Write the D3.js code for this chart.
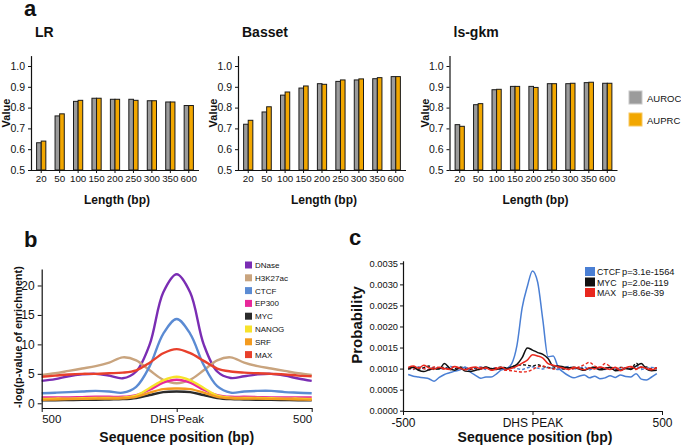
<!DOCTYPE html>
<html><head><meta charset="utf-8">
<script src="https://cdn.jsdelivr.net/npm/d3@7"></script>
<style>
body{margin:0;background:#fff;}
text{font-family:"Liberation Sans",Arial,sans-serif;fill:#111;}
</style></head>
<body>
<script>
// ---------- Panel a data ----------
const lengths = ["20","50","100","150","200","250","300","350","600"];
const metrics = ["AUROC","AUPRC"];
const lrAUROC     = [0.631,0.760,0.830,0.845,0.840,0.840,0.833,0.827,0.810];
const lrAUPRC     = [0.639,0.770,0.835,0.845,0.840,0.835,0.833,0.827,0.810];
const bassetAUROC = [0.720,0.779,0.860,0.894,0.915,0.926,0.933,0.939,0.949];
const bassetAUPRC = [0.739,0.804,0.875,0.904,0.912,0.933,0.938,0.944,0.949];
const lsgkmAUROC  = [0.718,0.814,0.886,0.902,0.902,0.915,0.915,0.920,0.917];
const lsgkmAUPRC  = [0.710,0.819,0.888,0.902,0.897,0.915,0.917,0.922,0.917];
const valueTicks  = [0.5,0.6,0.7,0.8,0.9,1.0];

// ---------- Panel b data ----------
const posB = [-500,-450,-400,-350,-300,-250,-200,-150,-100,-50,0,50,100,150,200,250,300,350,400,450,500];
const bNames = ["DNase","H3K27ac","CTCF","EP300","MYC","NANOG","SRF","MAX"];
const bDNase   = [3.8,4.1,4.6,4.9,5.0,4.7,4.25,5.4,10.0,18.8,21.9,18.8,10.0,5.4,4.3,4.6,4.9,5.0,4.7,4.2,3.8];
const bH3K27ac = [4.8,5.1,5.5,5.9,6.3,6.9,7.8,7.3,5.6,4.0,3.4,4.0,5.6,7.3,7.8,6.9,6.3,5.9,5.5,5.1,4.8];
const bCTCF    = [1.7,1.8,1.9,2.0,2.1,2.0,1.8,2.8,6.3,11.8,14.3,11.8,6.5,2.9,1.8,2.0,2.1,2.1,1.9,1.8,1.7];
const bEP300   = [1.0,1.0,1.0,1.05,1.1,1.1,1.1,1.4,2.3,3.5,4.0,3.5,2.3,1.4,1.1,1.1,1.05,1.0,1.0,1.0,1.0];
const bMYC     = [0.5,0.5,0.55,0.6,0.6,0.65,0.7,0.9,1.4,1.9,2.0,1.9,1.4,0.9,0.7,0.65,0.6,0.6,0.55,0.5,0.5];
const bNANOG   = [0.75,0.8,0.8,0.85,0.9,0.9,0.95,1.3,2.6,3.9,4.5,3.9,2.6,1.3,0.95,0.9,0.9,0.85,0.8,0.8,0.75];
const bSRF     = [0.6,0.65,0.7,0.75,0.8,0.8,0.85,1.1,1.8,2.4,2.5,2.4,1.8,1.1,0.85,0.8,0.8,0.75,0.7,0.65,0.6];
const bMAX     = [4.5,4.7,4.9,5.0,5.0,5.1,5.2,5.6,6.9,8.5,9.2,8.5,7.2,5.9,5.4,5.2,5.1,5.0,4.9,4.7,4.6];
const bColors  = ["#7a2db3","#c9a47e","#5b8bd3","#e8289a","#2b2b2b","#f7e22b","#f49b1f","#e8402c"];
const bTicks   = [0,5,10,15,20];

// ---------- Panel c data ----------
const posC = [-480,-460,-440,-420,-400,-380,-360,-340,-320,-300,-280,-260,-240,-220,-200,-180,-160,-140,-120,-100,-80,-60,-40,-20,0,
              20,40,60,80,100,120,140,160,180,200,220,240,260,280,300,320,340,360,380,400,420,440,460,480];
const cCTCF = [8.6e-4,8.2e-4,8.0e-4,7.8e-4,7.6e-4,7.0e-4,7.9e-4,8.6e-4,9.0e-4,9.4e-4,9.7e-4,10.4e-4,9.2e-4,8.4e-4,7.7e-4,8.0e-4,8.0e-4,8.7e-4,9.7e-4,10.0e-4,11.2e-4,15.5e-4,24.4e-4,29.5e-4,33.2e-4,
               30.5e-4,21.5e-4,12.8e-4,13.0e-4,10.2e-4,9.1e-4,8.3e-4,7.8e-4,8.2e-4,8.5e-4,7.8e-4,8.2e-4,7.6e-4,7.8e-4,8.3e-4,7.9e-4,8.5e-4,8.1e-4,8.0e-4,8.8e-4,7.5e-4,7.3e-4,8.0e-4,8.8e-4];
const cMYC  = [9.8e-4,10.3e-4,9.6e-4,9.3e-4,9.7e-4,10.0e-4,9.9e-4,11.2e-4,10.1e-4,9.6e-4,10.2e-4,9.4e-4,9.3e-4,9.6e-4,9.9e-4,10.4e-4,10.0e-4,9.8e-4,10.1e-4,10.0e-4,10.4e-4,11.0e-4,12.6e-4,14.9e-4,14.4e-4,
               13.8e-4,13.4e-4,12.4e-4,10.6e-4,10.6e-4,10.4e-4,10.2e-4,10.3e-4,9.9e-4,9.6e-4,10.1e-4,10.2e-4,9.7e-4,9.9e-4,10.3e-4,9.5e-4,9.6e-4,10.0e-4,9.8e-4,10.6e-4,11.2e-4,9.9e-4,9.5e-4,9.6e-4];
const cMAX  = [10.3e-4,10.6e-4,10.1e-4,10.8e-4,10.2e-4,9.9e-4,10.3e-4,10.0e-4,9.8e-4,10.5e-4,10.1e-4,9.7e-4,10.2e-4,10.4e-4,9.9e-4,10.2e-4,9.6e-4,9.9e-4,10.3e-4,9.8e-4,10.1e-4,10.6e-4,11.3e-4,12.0e-4,13.3e-4,
               13.0e-4,12.5e-4,11.2e-4,10.8e-4,10.4e-4,10.1e-4,9.8e-4,10.3e-4,10.0e-4,9.7e-4,10.2e-4,9.9e-4,10.4e-4,10.1e-4,9.8e-4,10.3e-4,9.5e-4,10.2e-4,10.5e-4,9.9e-4,10.4e-4,10.0e-4,9.7e-4,10.1e-4];
const cCTCFbg = [10.2e-4,9.8e-4,10.4e-4,10.0e-4,9.7e-4,10.3e-4,10.1e-4,9.9e-4,10.6e-4,10.0e-4,9.8e-4,10.3e-4,9.9e-4,10.1e-4,10.4e-4,9.8e-4,10.0e-4,10.2e-4,9.7e-4,10.1e-4,10.3e-4,10.0e-4,9.8e-4,10.2e-4,10.4e-4,
                 10.1e-4,9.9e-4,10.3e-4,10.0e-4,9.8e-4,10.2e-4,10.5e-4,9.9e-4,10.1e-4,10.4e-4,9.7e-4,10.2e-4,10.0e-4,9.8e-4,10.3e-4,10.1e-4,9.9e-4,10.2e-4,10.0e-4,10.6e-4,9.8e-4,10.1e-4,10.3e-4,9.9e-4];
const cMYCbg  = [10.0e-4,10.4e-4,9.9e-4,10.2e-4,10.6e-4,9.8e-4,10.1e-4,10.3e-4,9.7e-4,10.0e-4,10.4e-4,10.1e-4,9.8e-4,10.2e-4,10.0e-4,10.3e-4,9.9e-4,10.1e-4,10.4e-4,10.2e-4,10.5e-4,10.7e-4,10.9e-4,10.8e-4,10.6e-4,
                 10.9e-4,10.5e-4,10.3e-4,10.1e-4,10.4e-4,9.9e-4,10.2e-4,10.0e-4,10.3e-4,9.8e-4,10.1e-4,10.4e-4,9.9e-4,10.2e-4,10.0e-4,9.7e-4,10.3e-4,10.1e-4,9.9e-4,11.3e-4,10.2e-4,10.4e-4,9.9e-4,10.2e-4];
const cMAXbg  = [10.1e-4,9.9e-4,10.3e-4,10.0e-4,9.8e-4,10.4e-4,10.2e-4,9.9e-4,10.1e-4,10.5e-4,9.8e-4,10.2e-4,10.0e-4,9.7e-4,10.3e-4,10.1e-4,9.9e-4,10.2e-4,9.8e-4,9.6e-4,9.5e-4,9.3e-4,9.2e-4,9.3e-4,9.8e-4,
                 10.4e-4,10.6e-4,10.2e-4,9.9e-4,10.1e-4,10.3e-4,9.8e-4,10.0e-4,10.4e-4,10.9e-4,11.5e-4,10.6e-4,10.2e-4,11.2e-4,10.5e-4,9.9e-4,10.3e-4,10.0e-4,10.2e-4,9.8e-4,10.4e-4,10.1e-4,9.9e-4,10.2e-4];
const cNames = ["CTCF","MYC","MAX"];
const cPvals = ["p=3.1e-1564","p=2.0e-119","p=8.6e-39"];
const cColors = ["#4a7fd4","#111111","#e8281e"];
const cTicks = [0,0.0005,0.001,0.0015,0.002,0.0025,0.003,0.0035];

// ---------- drawing ----------
const svg = d3.select("body").append("svg").attr("width",681).attr("height",446);
const FONT = '"Liberation Sans",Arial,sans-serif';

function styleAxis(g, fs){
  g.selectAll("path.domain").attr("stroke","#111").attr("stroke-width",1.2);
  g.selectAll(".tick line").attr("stroke","#111").attr("stroke-width",1);
  g.selectAll(".tick text").attr("font-family",FONT).attr("font-size",fs).attr("fill","#111");
}

// Panel label a
svg.append("text").attr("x",24).attr("y",16).attr("font-size",22).attr("font-weight","bold").text("a");

const barColors = {AUROC:"#9b9b9b", AUPRC:"#f2a700"};
function barPanel(x0, title, auroc, auprc){
  const g = svg.append("g");
  const x = d3.scaleBand().domain(lengths).range([x0+1, x0+167]).paddingInner(0.5).paddingOuter(0.25);
  const sub = d3.scaleBand().domain(metrics).range([0, x.bandwidth()]);
  const y = d3.scaleLinear().domain([0.5,1.05]).range([170,55.6]);
  const rows = lengths.map((l,i)=>({l, AUROC:auroc[i], AUPRC:auprc[i]}));
  rows.forEach(r=>{
    metrics.forEach(m=>{
      g.append("rect").attr("x",x(r.l)+sub(m)).attr("width",sub.bandwidth())
        .attr("y",y(r[m])).attr("height",y(0.5)-y(r[m]))
        .attr("fill",barColors[m]).attr("stroke","#1a1a1a").attr("stroke-width",1);
    });
  });
  const ya = g.append("g").attr("transform",`translate(${x0},0)`)
    .call(d3.axisLeft(y).tickValues(valueTicks).tickFormat(d3.format(".1f")).tickSize(3).tickSizeOuter(0).tickPadding(3));
  styleAxis(ya,10.5);
  const xa = g.append("g").attr("transform",`translate(0,170)`)
    .call(d3.axisBottom(x).tickSize(3).tickSizeOuter(0).tickPadding(2));
  styleAxis(xa,9.8);
  xa.select("path.domain").attr("d",`M${x0},0.5H${x0+168}`);
  g.append("text").attr("x",x0+4).attr("y",37).attr("font-size",14).attr("font-weight","bold").text(title);
  g.append("text").attr("transform",`translate(${x0-21},113) rotate(-90)`).attr("text-anchor","middle")
    .attr("font-size",11).attr("font-weight","bold").text("Value");
  g.append("text").attr("x",x0+86).attr("y",204).attr("text-anchor","middle")
    .attr("font-size",12).attr("font-weight","bold").text("Length (bp)");
}
barPanel(31,"LR",lrAUROC,lrAUPRC);
barPanel(238,"Basset",bassetAUROC,bassetAUPRC);
barPanel(449.5,"ls-gkm",lsgkmAUROC,lsgkmAUPRC);

// legend a
metrics.forEach((m,i)=>{
  svg.append("rect").attr("x",629).attr("y",91+i*22).attr("width",13).attr("height",13)
    .attr("fill",barColors[m]).attr("stroke",i===0?"#c8c8c8":"#f7c860").attr("stroke-width",1);
  svg.append("text").attr("x",647).attr("y",101.5+i*22).attr("font-size",9.5).text(m);
});

// ---------- Panel b ----------
svg.append("text").attr("x",24).attr("y",247).attr("font-size",22).attr("font-weight","bold").text("b");
const xb = d3.scaleLinear().domain([-500,500]).range([41.7,311.7]);
const yb = d3.scaleLinear().domain([-0.8,22.8]).range([408,269]);
const bSeries = [bDNase,bH3K27ac,bCTCF,bEP300,bMYC,bNANOG,bSRF,bMAX];
const lineB = d3.line().x(d=>xb(d[0])).y(d=>yb(d[1])).curve(d3.curveCatmullRom.alpha(0.5));
bSeries.forEach((s,k)=>{
  svg.append("path").attr("d",lineB(posB.map((p,i)=>[p,s[i]])))
    .attr("fill","none").attr("stroke",bColors[k]).attr("stroke-width",2.4).attr("stroke-linejoin","round");
});
const yba = svg.append("g").attr("transform","translate(41.7,0)")
  .call(d3.axisLeft(yb).tickValues(bTicks).tickSize(4).tickSizeOuter(0).tickPadding(3));
styleAxis(yba,12);
const xba = svg.append("g").attr("transform","translate(0,408)")
  .call(d3.axisBottom(xb).tickValues([-500,0,500]).tickFormat(d=>d===0?"DHS Peak":"500").tickSize(4).tickSizeOuter(0).tickPadding(3));
styleAxis(xba,11.5);
xba.selectAll(".tick text").attr("text-anchor",(d)=>d<0?"start":(d>0?"end":"middle"));
svg.append("text").attr("x",176.7).attr("y",442).attr("text-anchor","middle").attr("font-size",14).attr("font-weight","bold").text("Sequence position (bp)");
svg.append("text").attr("transform","translate(22,337) rotate(-90)").attr("text-anchor","middle").attr("font-size",11).attr("font-weight","bold").text("-log(p-value of enrichment)");
bNames.forEach((n,k)=>{
  const yy = 265+k*12.8;
  svg.append("rect").attr("x",245).attr("y",yy-3.5).attr("width",7).attr("height",7).attr("fill",bColors[k]);
  svg.append("text").attr("x",255).attr("y",yy+3).attr("font-size",8).text(n);
});

// ---------- Panel c ----------
svg.append("text").attr("x",349).attr("y",245).attr("font-size",22).attr("font-weight","bold").text("c");
const xc = d3.scaleLinear().domain([-500,500]).range([403,662]);
const yc = d3.scaleLinear().domain([0,0.00356]).range([410.7,260.8]);
const lineC = d3.line().x(d=>xc(d[0])).y(d=>yc(d[1])).curve(d3.curveMonotoneX);
const bgSeries = [cCTCFbg,cMYCbg,cMAXbg];
bgSeries.forEach((s,k)=>{
  svg.append("path").attr("d",lineC(posC.map((p,i)=>[p,s[i]])))
    .attr("fill","none").attr("stroke",cColors[k]).attr("stroke-width",1.4).attr("stroke-dasharray","3,2");
});
[cCTCF,cMYC,cMAX].forEach((s,k)=>{
  svg.append("path").attr("d",lineC(posC.map((p,i)=>[p,s[i]])))
    .attr("fill","none").attr("stroke",cColors[k]).attr("stroke-width",1.5).attr("stroke-linejoin","round");
});
const yca = svg.append("g").attr("transform","translate(403,0)")
  .call(d3.axisLeft(yc).tickValues(cTicks).tickFormat(d3.format(".4f")).tickSize(3).tickSizeOuter(0).tickPadding(2));
styleAxis(yca,9.3);
const xca = svg.append("g").attr("transform","translate(0,411)")
  .call(d3.axisBottom(xc).tickValues([-500,0,500]).tickFormat(d=>d===0?"DHS PEAK":String(d)).tickSize(4).tickSizeOuter(0).tickPadding(3));
styleAxis(xca,12);
svg.append("text").attr("x",535).attr("y",442).attr("text-anchor","middle").attr("font-size",14).attr("font-weight","bold").text("Sequence position (bp)");
svg.append("text").attr("transform","translate(362,325) rotate(-90)").attr("text-anchor","middle").attr("font-size",15).attr("font-weight","bold").text("Probability");
cNames.forEach((n,k)=>{
  const yy = 271.5+k*10.5;
  svg.append("rect").attr("x",585).attr("y",yy-4.5).attr("width",10).attr("height",9).attr("fill",cColors[k]);
  svg.append("text").attr("x",597).attr("y",yy+3.5).attr("font-size",8.8).text(n);
  svg.append("text").attr("x",622).attr("y",yy+3.5).attr("font-size",9.3).text(cPvals[k]);
});
</script>
</body></html>
